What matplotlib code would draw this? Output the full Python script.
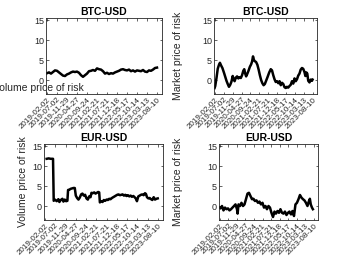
import matplotlib
matplotlib.use("Agg")
import matplotlib.pyplot as plt

# x tick labels (every 150 days from 2019-02-02)
tick_days = [0, 150, 300, 450, 600, 750, 900, 1050, 1200, 1350, 1500, 1650]
tick_labels = ['2019-02-02', '2019-07-02', '2019-11-29', '2020-04-27', '2020-09-24',
               '2021-02-21', '2021-07-21', '2021-12-18', '2022-05-17', '2022-10-14',
               '2023-03-13', '2023-08-10']

# BTC-USD volume price of risk (days since 2019-02-02)
btc_vol_days = list(range(0, 1651, 30))
btc_vol = [1.7, 1.9, 1.6, 2.0, 2.4, 2.3, 1.9, 1.5, 1.1, 1.0, 1.4, 1.6, 1.9, 2.1,
           2.0, 2.1, 1.8, 1.2, 0.8, 1.2, 1.6, 2.2, 2.3, 2.5, 2.3, 2.9, 2.7, 2.6,
           2.2, 1.6, 1.8, 1.5, 1.7, 1.6, 1.9, 2.1, 2.3, 2.6, 2.7, 2.5, 2.4, 2.6,
           2.2, 2.4, 2.1, 2.4, 2.3, 2.2, 2.5, 2.1, 2.0, 2.4, 2.3, 2.6, 3.0, 3.1]

# BTC-USD market price of risk
btc_mkt_days = [-5, 6, 27, 48, 69, 85, 106, 127, 154, 175, 196, 217, 238, 259, 280,
                301, 317, 333, 354, 375, 396, 417, 438, 459, 480, 496, 512, 528, 549,
                570, 591, 612, 628, 644, 660, 675, 696, 718, 739, 760, 781, 802, 823,
                844, 865, 891, 918, 944, 965, 986, 1007, 1028, 1050, 1071, 1092, 1113,
                1134, 1155, 1176, 1197, 1218, 1239, 1260, 1281, 1303, 1324, 1345, 1366,
                1387, 1408, 1429, 1450, 1471, 1492, 1513, 1529, 1545, 1561, 1577, 1598,
                1619, 1640, 1650]
btc_mkt = [-2.0, -1.5, 0.5, 2.8, 3.8, 4.3, 3.6, 3.0, 1.8, 0.8, -0.2, -1.0, -1.7, -1.2,
           -0.4, 1.0, 0.2, -0.3, 0.6, 0.9, 0.4, 0.7, 0.5, 1.2, 2.3, 2.7, 1.6, 0.9, 1.6,
           2.4, 3.3, 3.9, 4.6, 5.9, 5.0, 4.7, 4.5, 3.8, 2.6, 1.2, 0.0, -0.8, -1.3, -1.0,
           -0.2, 0.8, 1.9, 2.7, 2.4, 1.2, 0.2, -0.5, -0.3, -0.8, -0.3, -1.3, -0.7, -1.0,
           -1.8, -2.0, -1.7, -1.9, -1.5, -1.2, -0.3, -0.9, 0.4, -0.3, 0.2, 1.1, 1.6, 2.6,
           3.0, 2.8, 2.0, 1.0, 1.9, 1.6, -0.2, -0.6, 0.1, -0.2, 0.1]

# EUR-USD volume price of risk
eur_vol_days = [24, 53, 83, 117, 127, 146, 171, 195, 210, 230, 254, 269, 288, 308, 327,
                337, 357, 376, 396, 415, 435, 450, 469, 489, 508, 528, 547, 567, 586,
                606, 626, 645, 665, 679, 699, 719, 738, 758, 777, 792, 802, 821, 841,
                860, 880, 899, 919, 939, 958, 978, 997, 1017, 1036, 1056, 1075, 1095,
                1115, 1134, 1154, 1173, 1193, 1212, 1232, 1252, 1271, 1291, 1310, 1330,
                1344, 1364, 1384, 1403, 1423, 1442, 1462, 1476, 1491, 1511, 1530, 1550,
                1569, 1589, 1608, 1628, 1648]
eur_vol = [11.8, 11.9, 11.8, 11.8, 1.3, 1.6, 1.2, 1.7, 1.0, 1.5, 1.8, 1.1, 1.6, 1.2,
           1.3, 4.0, 4.1, 4.3, 4.4, 4.5, 4.5, 2.6, 2.0, 1.6, 2.1, 2.9, 3.1, 2.6, 2.8,
           1.9, 1.6, 2.4, 2.2, 3.3, 3.2, 3.4, 3.1, 3.3, 3.5, 3.4, 0.9, 1.2, 1.0, 1.5,
           1.3, 1.6, 1.5, 1.8, 1.7, 2.0, 2.2, 2.4, 2.6, 2.8, 2.9, 2.7, 2.8, 2.9, 2.6,
           2.8, 2.5, 2.7, 2.4, 2.6, 2.3, 2.5, 2.2, 1.8, 1.2, 2.4, 2.6, 2.8, 2.9, 2.7,
           3.2, 3.0, 2.2, 1.9, 2.0, 1.7, 1.5, 2.2, 1.6, 1.8, 1.9]

# EUR-USD market price of risk
eur_mkt_days = [-5, 11, 38, 64, 90, 117, 143, 169, 196, 222, 249, 275, 301, 312, 328,
                354, 380, 407, 433, 459, 486, 512, 538, 565, 591, 617, 644, 670, 696,
                723, 749, 776, 802, 828, 855, 881, 907, 934, 960, 986, 1013, 1039, 1065,
                1092, 1118, 1144, 1171, 1197, 1223, 1250, 1276, 1303, 1329, 1355, 1382,
                1408, 1434, 1461, 1487, 1513, 1540, 1566, 1582, 1598, 1619, 1635]
eur_mkt = [-0.4, -0.6, 0.0, -1.1, -0.4, -0.8, -0.6, -1.1, -0.8, -0.4, 0.0, 0.4, -0.8,
           -1.9, 0.4, 0.0, 0.8, 0.0, 0.4, 1.7, 3.1, 3.3, 2.5, 1.7, 1.8, 1.25, 1.4, 0.8,
           1.1, 0.4, 0.8, -0.4, 0.0, -0.8, 0.0, -0.4, -1.7, -2.75, -1.4, -1.9, -1.25,
           -1.7, -0.8, -1.7, -1.9, -1.4, -2.25, -1.7, -1.4, -2.1, -1.25, -2.5, 0.4, 0.8,
           1.7, 2.75, 2.1, 1.7, 1.4, 0.8, 0.0, 1.25, 1.8, 0.4, -0.4, -0.8]

W, H = 350, 263
fig = plt.figure(figsize=(W / 100, H / 100), dpi=100)
plt.rcParams['font.family'] = ['Liberation Sans', 'DejaVu Sans']
gray = '#262626'


def make_axes(left, top, right, bottom):
    return fig.add_axes([left / W, 1 - bottom / H, (right - left) / W, (bottom - top) / H])


panels = [
    (make_axes(46, 18, 162, 94), btc_vol_days, btc_vol, 'BTC-USD'),
    (make_axes(214, 18, 317, 94), btc_mkt_days, btc_mkt, 'BTC-USD'),
    (make_axes(44, 144, 163, 220), eur_vol_days, eur_vol, 'EUR-USD'),
    (make_axes(219, 144, 318, 220), eur_mkt_days, eur_mkt, 'EUR-USD'),
]

for ax, days, vals, title in panels:
    ax.plot(days, vals, color='black', linewidth=1.8)
    ax.set_xlim(-15, 1725)
    ax.set_ylim(-3.5, 15.5)
    ax.set_yticks([0, 5, 10, 15])
    ax.set_xticks(tick_days)
    ax.set_xticklabels(tick_labels, rotation=45, ha='right', rotation_mode='anchor',
                       fontsize=5.8, color=gray)
    ax.tick_params(axis='y', labelsize=6.5, labelcolor=gray)
    ax.tick_params(direction='in', length=1.8, width=0.5, color=gray,
                   top=True, right=True, pad=1.5)
    for s in ax.spines.values():
        s.set_color(gray)
        s.set_linewidth(0.6)
    ax.set_title(title, fontsize=7.5, fontweight='bold', pad=2, color='black')

# y labels
ax_tl, ax_tr, ax_bl, ax_br = [p[0] for p in panels]
fig.text(84 / W, 1 - 88 / H, 'Volume price of risk', ha='right', va='center',
         fontsize=7.5, color=gray)
for ax, x_px, text in [(ax_tr, 183, 'Market price of risk'),
                       (ax_bl, 28, 'Volume price of risk'),
                       (ax_br, 183, 'Market price of risk')]:
    ax.set_ylabel(text, fontsize=7.5, color=gray)
    pos = ax.get_position()
    ax.yaxis.set_label_coords((x_px / W - pos.x0) / pos.width, 0.5)

fig.savefig('out.png', dpi=100)
